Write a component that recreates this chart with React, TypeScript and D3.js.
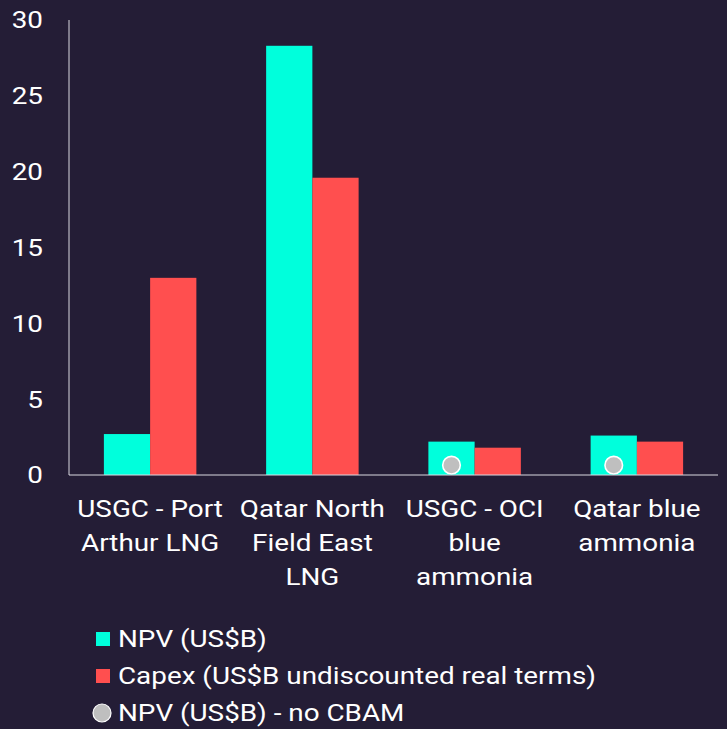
import React from "react";
import * as d3 from "d3";

const categories: string[][] = [
  ["USGC - Port", "Arthur LNG"],
  ["Qatar North", "Field East", "LNG"],
  ["USGC - OCI", "blue", "ammonia"],
  ["Qatar blue", "ammonia"],
];
const npv: number[] = [2.7, 28.3, 2.2, 2.6];
const capex: number[] = [13.0, 19.6, 1.8, 2.2];
const npvNoCbam: (number | null)[] = [null, null, 0.65, 0.65];
const yTicks: number[] = [0, 5, 10, 15, 20, 25, 30];
const legendLabels: string[] = [
  "NPV (US$B)",
  "Capex (US$B undiscounted real terms)",
  "NPV (US$B) - no CBAM",
];

const W = 727;
const H = 729;
const BG = "#241d36";
const TEAL = "#00ffdc";
const RED = "#ff4f4f";
const GRAY = "#bfbfbf";
const FONT = "Roboto, 'Noto Sans', sans-serif";
const SX = 1.16;

function SText(props: { x: number; y: number; anchor?: string; dy?: string; children: React.ReactNode }) {
  const { x, y, anchor = "start", dy, children } = props;
  return (
    <text
      transform={`translate(${x},${y}) scale(${SX},1)`}
      textAnchor={anchor}
      dy={dy}
      fill="#fff"
      fontSize={24}
    >
      {children}
    </text>
  );
}

export default function App() {
  const x0 = 69;
  const x1 = 718;
  const yBase = 475;
  const yTop = 20;
  const x = d3
    .scaleBand<number>()
    .domain(categories.map((_, i) => i))
    .range([x0, x1])
    .paddingInner(0.43)
    .paddingOuter(0.215);
  const sub = d3
    .scaleBand<string>()
    .domain(["npv", "capex"])
    .range([0, x.bandwidth()]);
  const y = d3.scaleLinear().domain([0, 30]).range([yBase, yTop]);

  return (
    <div style={{ position: "fixed", left: 0, top: 0, width: W, height: H, background: BG }}>
      <svg width={W} height={H} style={{ display: "block" }} fontFamily={FONT}>
        <rect width={W} height={H} fill={BG} />
        {yTicks.map((t) => (
          <SText key={t} x={43} y={y(t)} dy="0.35em" anchor="end">
            {t}
          </SText>
        ))}
        {categories.map((c, i) => {
          const bx = x(i)!;
          return (
            <g key={i}>
              <rect x={bx + sub("npv")!} y={y(npv[i])} width={sub.bandwidth()} height={yBase - y(npv[i])} fill={TEAL} />
              <rect x={bx + sub("capex")!} y={y(capex[i])} width={sub.bandwidth()} height={yBase - y(capex[i])} fill={RED} />
              {npvNoCbam[i] != null && (
                <circle
                  cx={bx + sub("npv")! + sub.bandwidth() / 2}
                  cy={y(npvNoCbam[i] as number)}
                  r={8.8}
                  fill={GRAY}
                  stroke="#ffffff"
                  strokeWidth={1.6}
                />
              )}
              {c.map((line, j) => (
                <SText key={j} x={bx + x.bandwidth() / 2} y={517 + j * 34} anchor="middle">
                  {line}
                </SText>
              ))}
            </g>
          );
        })}
        <line x1={x0} x2={x0} y1={yTop} y2={yBase} stroke="#d9d9e0" strokeWidth={1} />
        <line x1={x0} x2={x1} y1={yBase} y2={yBase} stroke="#d9d9e0" strokeWidth={1} />
        {legendLabels.map((l, i) => (
          <g key={i} transform={`translate(0, ${639 + i * 37})`}>
            {i < 2 ? (
              <rect x={96} y={-7} width={14} height={14} fill={i === 0 ? TEAL : RED} />
            ) : (
              <circle cx={102} cy={0} r={9} fill={GRAY} stroke="#ffffff" strokeWidth={1.2} />
            )}
            <SText x={118} y={0} dy="0.35em">
              {l}
            </SText>
          </g>
        ))}
      </svg>
    </div>
  );
}
